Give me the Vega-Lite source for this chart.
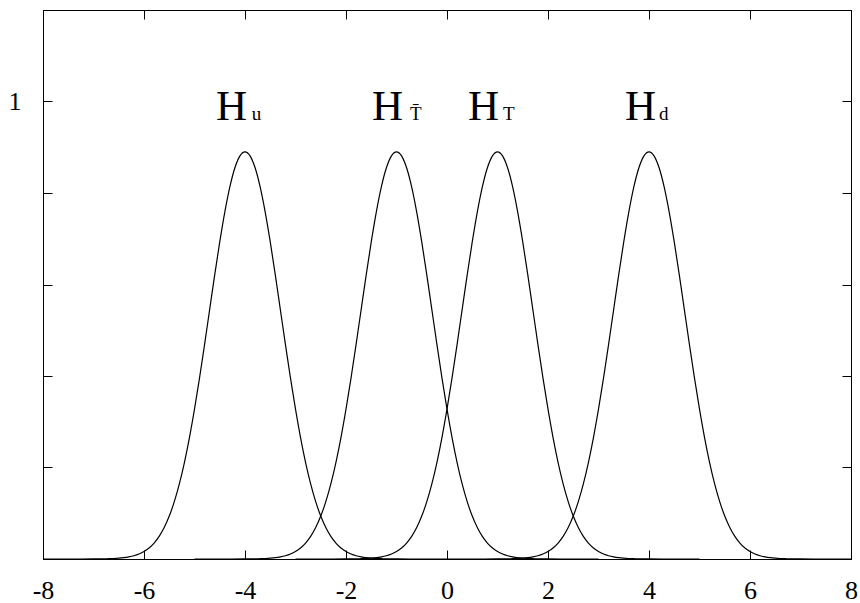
{
  "$schema": "https://vega.github.io/schema/vega-lite/v6.json",
  "width": 808,
  "height": 549,
  "autosize": "none",
  "padding": {"left": 43, "top": 10, "right": 9, "bottom": 44},
  "background": "white",
  "config": {
    "view": {"stroke": "black", "strokeWidth": 1},
    "axis": {
      "grid": false,
      "domainColor": "black",
      "tickColor": "black",
      "tickSize": -9,
      "tickWidth": 1,
      "labelFont": "Liberation Serif",
      "labelFontSize": 26,
      "labelColor": "black",
      "title": null
    }
  },
  "datasets": {
    "curves": [
      {"s":"u","x":-8,"y":0},{"s":"u","x":-7.5,"y":0},{"s":"u","x":-7,"y":0.00011},{"s":"u","x":-6.9,"y":0.0002},{"s":"u","x":-6.8,"y":0.00035},{"s":"u","x":-6.7,"y":0.00061},{"s":"u","x":-6.6,"y":0.00103},{"s":"u","x":-6.5,"y":0.00172},{"s":"u","x":-6.4,"y":0.0028},{"s":"u","x":-6.3,"y":0.00449},{"s":"u","x":-6.2,"y":0.00704},{"s":"u","x":-6.1,"y":0.01082},{"s":"u","x":-6,"y":0.0163},{"s":"u","x":-5.9,"y":0.02408},{"s":"u","x":-5.8,"y":0.03486},{"s":"u","x":-5.7,"y":0.04946},{"s":"u","x":-5.6,"y":0.0688},{"s":"u","x":-5.5,"y":0.09381},{"s":"u","x":-5.4,"y":0.12536},{"s":"u","x":-5.3,"y":0.16422},{"s":"u","x":-5.2,"y":0.21087},{"s":"u","x":-5.1,"y":0.2654},{"s":"u","x":-5,"y":0.32741},{"s":"u","x":-4.9,"y":0.39592},{"s":"u","x":-4.8,"y":0.46929},{"s":"u","x":-4.7,"y":0.54524},{"s":"u","x":-4.6,"y":0.62093},{"s":"u","x":-4.5,"y":0.69313},{"s":"u","x":-4.4,"y":0.75841},{"s":"u","x":-4.3,"y":0.8134},{"s":"u","x":-4.2,"y":0.8551},{"s":"u","x":-4.1,"y":0.88114},{"s":"u","x":-4,"y":0.89},{"s":"u","x":-3.9,"y":0.88114},{"s":"u","x":-3.8,"y":0.8551},{"s":"u","x":-3.7,"y":0.8134},{"s":"u","x":-3.6,"y":0.75841},{"s":"u","x":-3.5,"y":0.69313},{"s":"u","x":-3.4,"y":0.62093},{"s":"u","x":-3.3,"y":0.54524},{"s":"u","x":-3.2,"y":0.46929},{"s":"u","x":-3.1,"y":0.39592},{"s":"u","x":-3,"y":0.32741},{"s":"u","x":-2.9,"y":0.2654},{"s":"u","x":-2.8,"y":0.21087},{"s":"u","x":-2.7,"y":0.16422},{"s":"u","x":-2.6,"y":0.12536},{"s":"u","x":-2.5,"y":0.09381},{"s":"u","x":-2.4,"y":0.0688},{"s":"u","x":-2.3,"y":0.04946},{"s":"u","x":-2.2,"y":0.03486},{"s":"u","x":-2.1,"y":0.02408},{"s":"u","x":-2,"y":0.0163},{"s":"u","x":-1.9,"y":0.01082},{"s":"u","x":-1.8,"y":0.00704},{"s":"u","x":-1.7,"y":0.00449},{"s":"u","x":-1.6,"y":0.0028},{"s":"u","x":-1.5,"y":0.00172},{"s":"u","x":-1.4,"y":0.00103},{"s":"u","x":-1.3,"y":0.00061},{"s":"u","x":-1.2,"y":0.00035},{"s":"u","x":-1.1,"y":0.0002},{"s":"u","x":-1,"y":0.00011},{"s":"u","x":-0.5,"y":0},{"s":"u","x":0,"y":0},
      {"s":"tb","x":-5,"y":0},{"s":"tb","x":-4.5,"y":0},{"s":"tb","x":-4,"y":0.00011},{"s":"tb","x":-3.9,"y":0.0002},{"s":"tb","x":-3.8,"y":0.00035},{"s":"tb","x":-3.7,"y":0.00061},{"s":"tb","x":-3.6,"y":0.00103},{"s":"tb","x":-3.5,"y":0.00172},{"s":"tb","x":-3.4,"y":0.0028},{"s":"tb","x":-3.3,"y":0.00449},{"s":"tb","x":-3.2,"y":0.00704},{"s":"tb","x":-3.1,"y":0.01082},{"s":"tb","x":-3,"y":0.0163},{"s":"tb","x":-2.9,"y":0.02408},{"s":"tb","x":-2.8,"y":0.03486},{"s":"tb","x":-2.7,"y":0.04946},{"s":"tb","x":-2.6,"y":0.0688},{"s":"tb","x":-2.5,"y":0.09381},{"s":"tb","x":-2.4,"y":0.12536},{"s":"tb","x":-2.3,"y":0.16422},{"s":"tb","x":-2.2,"y":0.21087},{"s":"tb","x":-2.1,"y":0.2654},{"s":"tb","x":-2,"y":0.32741},{"s":"tb","x":-1.9,"y":0.39592},{"s":"tb","x":-1.8,"y":0.46929},{"s":"tb","x":-1.7,"y":0.54524},{"s":"tb","x":-1.6,"y":0.62093},{"s":"tb","x":-1.5,"y":0.69313},{"s":"tb","x":-1.4,"y":0.75841},{"s":"tb","x":-1.3,"y":0.8134},{"s":"tb","x":-1.2,"y":0.8551},{"s":"tb","x":-1.1,"y":0.88114},{"s":"tb","x":-1,"y":0.89},{"s":"tb","x":-0.9,"y":0.88114},{"s":"tb","x":-0.8,"y":0.8551},{"s":"tb","x":-0.7,"y":0.8134},{"s":"tb","x":-0.6,"y":0.75841},{"s":"tb","x":-0.5,"y":0.69313},{"s":"tb","x":-0.4,"y":0.62093},{"s":"tb","x":-0.3,"y":0.54524},{"s":"tb","x":-0.2,"y":0.46929},{"s":"tb","x":-0.1,"y":0.39592},{"s":"tb","x":0,"y":0.32741},{"s":"tb","x":0.1,"y":0.2654},{"s":"tb","x":0.2,"y":0.21087},{"s":"tb","x":0.3,"y":0.16422},{"s":"tb","x":0.4,"y":0.12536},{"s":"tb","x":0.5,"y":0.09381},{"s":"tb","x":0.6,"y":0.0688},{"s":"tb","x":0.7,"y":0.04946},{"s":"tb","x":0.8,"y":0.03486},{"s":"tb","x":0.9,"y":0.02408},{"s":"tb","x":1,"y":0.0163},{"s":"tb","x":1.1,"y":0.01082},{"s":"tb","x":1.2,"y":0.00704},{"s":"tb","x":1.3,"y":0.00449},{"s":"tb","x":1.4,"y":0.0028},{"s":"tb","x":1.5,"y":0.00172},{"s":"tb","x":1.6,"y":0.00103},{"s":"tb","x":1.7,"y":0.00061},{"s":"tb","x":1.8,"y":0.00035},{"s":"tb","x":1.9,"y":0.0002},{"s":"tb","x":2,"y":0.00011},{"s":"tb","x":2.5,"y":0},{"s":"tb","x":3,"y":0},
      {"s":"t","x":-3,"y":0},{"s":"t","x":-2.5,"y":0},{"s":"t","x":-2,"y":0.00011},{"s":"t","x":-1.9,"y":0.0002},{"s":"t","x":-1.8,"y":0.00035},{"s":"t","x":-1.7,"y":0.00061},{"s":"t","x":-1.6,"y":0.00103},{"s":"t","x":-1.5,"y":0.00172},{"s":"t","x":-1.4,"y":0.0028},{"s":"t","x":-1.3,"y":0.00449},{"s":"t","x":-1.2,"y":0.00704},{"s":"t","x":-1.1,"y":0.01082},{"s":"t","x":-1,"y":0.0163},{"s":"t","x":-0.9,"y":0.02408},{"s":"t","x":-0.8,"y":0.03486},{"s":"t","x":-0.7,"y":0.04946},{"s":"t","x":-0.6,"y":0.0688},{"s":"t","x":-0.5,"y":0.09381},{"s":"t","x":-0.4,"y":0.12536},{"s":"t","x":-0.3,"y":0.16422},{"s":"t","x":-0.2,"y":0.21087},{"s":"t","x":-0.1,"y":0.2654},{"s":"t","x":0,"y":0.32741},{"s":"t","x":0.1,"y":0.39592},{"s":"t","x":0.2,"y":0.46929},{"s":"t","x":0.3,"y":0.54524},{"s":"t","x":0.4,"y":0.62093},{"s":"t","x":0.5,"y":0.69313},{"s":"t","x":0.6,"y":0.75841},{"s":"t","x":0.7,"y":0.8134},{"s":"t","x":0.8,"y":0.8551},{"s":"t","x":0.9,"y":0.88114},{"s":"t","x":1,"y":0.89},{"s":"t","x":1.1,"y":0.88114},{"s":"t","x":1.2,"y":0.8551},{"s":"t","x":1.3,"y":0.8134},{"s":"t","x":1.4,"y":0.75841},{"s":"t","x":1.5,"y":0.69313},{"s":"t","x":1.6,"y":0.62093},{"s":"t","x":1.7,"y":0.54524},{"s":"t","x":1.8,"y":0.46929},{"s":"t","x":1.9,"y":0.39592},{"s":"t","x":2,"y":0.32741},{"s":"t","x":2.1,"y":0.2654},{"s":"t","x":2.2,"y":0.21087},{"s":"t","x":2.3,"y":0.16422},{"s":"t","x":2.4,"y":0.12536},{"s":"t","x":2.5,"y":0.09381},{"s":"t","x":2.6,"y":0.0688},{"s":"t","x":2.7,"y":0.04946},{"s":"t","x":2.8,"y":0.03486},{"s":"t","x":2.9,"y":0.02408},{"s":"t","x":3,"y":0.0163},{"s":"t","x":3.1,"y":0.01082},{"s":"t","x":3.2,"y":0.00704},{"s":"t","x":3.3,"y":0.00449},{"s":"t","x":3.4,"y":0.0028},{"s":"t","x":3.5,"y":0.00172},{"s":"t","x":3.6,"y":0.00103},{"s":"t","x":3.7,"y":0.00061},{"s":"t","x":3.8,"y":0.00035},{"s":"t","x":3.9,"y":0.0002},{"s":"t","x":4,"y":0.00011},{"s":"t","x":4.5,"y":0},{"s":"t","x":5,"y":0},
      {"s":"d","x":0,"y":0},{"s":"d","x":0.5,"y":0},{"s":"d","x":1,"y":0.00011},{"s":"d","x":1.1,"y":0.0002},{"s":"d","x":1.2,"y":0.00035},{"s":"d","x":1.3,"y":0.00061},{"s":"d","x":1.4,"y":0.00103},{"s":"d","x":1.5,"y":0.00172},{"s":"d","x":1.6,"y":0.0028},{"s":"d","x":1.7,"y":0.00449},{"s":"d","x":1.8,"y":0.00704},{"s":"d","x":1.9,"y":0.01082},{"s":"d","x":2,"y":0.0163},{"s":"d","x":2.1,"y":0.02408},{"s":"d","x":2.2,"y":0.03486},{"s":"d","x":2.3,"y":0.04946},{"s":"d","x":2.4,"y":0.0688},{"s":"d","x":2.5,"y":0.09381},{"s":"d","x":2.6,"y":0.12536},{"s":"d","x":2.7,"y":0.16422},{"s":"d","x":2.8,"y":0.21087},{"s":"d","x":2.9,"y":0.2654},{"s":"d","x":3,"y":0.32741},{"s":"d","x":3.1,"y":0.39592},{"s":"d","x":3.2,"y":0.46929},{"s":"d","x":3.3,"y":0.54524},{"s":"d","x":3.4,"y":0.62093},{"s":"d","x":3.5,"y":0.69313},{"s":"d","x":3.6,"y":0.75841},{"s":"d","x":3.7,"y":0.8134},{"s":"d","x":3.8,"y":0.8551},{"s":"d","x":3.9,"y":0.88114},{"s":"d","x":4,"y":0.89},{"s":"d","x":4.1,"y":0.88114},{"s":"d","x":4.2,"y":0.8551},{"s":"d","x":4.3,"y":0.8134},{"s":"d","x":4.4,"y":0.75841},{"s":"d","x":4.5,"y":0.69313},{"s":"d","x":4.6,"y":0.62093},{"s":"d","x":4.7,"y":0.54524},{"s":"d","x":4.8,"y":0.46929},{"s":"d","x":4.9,"y":0.39592},{"s":"d","x":5,"y":0.32741},{"s":"d","x":5.1,"y":0.2654},{"s":"d","x":5.2,"y":0.21087},{"s":"d","x":5.3,"y":0.16422},{"s":"d","x":5.4,"y":0.12536},{"s":"d","x":5.5,"y":0.09381},{"s":"d","x":5.6,"y":0.0688},{"s":"d","x":5.7,"y":0.04946},{"s":"d","x":5.8,"y":0.03486},{"s":"d","x":5.9,"y":0.02408},{"s":"d","x":6,"y":0.0163},{"s":"d","x":6.1,"y":0.01082},{"s":"d","x":6.2,"y":0.00704},{"s":"d","x":6.3,"y":0.00449},{"s":"d","x":6.4,"y":0.0028},{"s":"d","x":6.5,"y":0.00172},{"s":"d","x":6.6,"y":0.00103},{"s":"d","x":6.7,"y":0.00061},{"s":"d","x":6.8,"y":0.00035},{"s":"d","x":6.9,"y":0.0002},{"s":"d","x":7,"y":0.00011},{"s":"d","x":7.5,"y":0},{"s":"d","x":8,"y":0}
    ],
    "heads": [
      {"x": -4.574, "y": 0.96, "t": "H"},
      {"x": -1.485, "y": 0.96, "t": "H"},
      {"x": 0.416, "y": 0.96, "t": "H"},
      {"x": 3.525, "y": 0.96, "t": "H"}
    ],
    "subs": [
      {"x": -3.867, "y": 0.96, "t": "u"},
      {"x": -0.733, "y": 0.96, "t": "T̄"},
      {"x": 1.109, "y": 0.96, "t": "T"},
      {"x": 4.198, "y": 0.96, "t": "d"}
    ]
  },
  "layer": [
    {
      "data": {"name": "curves"},
      "mark": {"type": "line", "color": "black", "strokeWidth": 1.2, "interpolate": "monotone", "clip": true},
      "encoding": {
        "x": {"field": "x", "type": "quantitative", "scale": {"domain": [-8, 8], "nice": false, "zero": false},
              "axis": {"orient": "bottom", "values": [-8, -6, -4, -2, 0, 2, 4, 6, 8], "labelExpr": "replace(datum.label, '−', '-')", "labelPadding": 27, "labelFlush": false}},
        "y": {"field": "y", "type": "quantitative", "scale": {"domain": [0, 1.2], "nice": false},
              "axis": {"orient": "left", "values": [0, 0.2, 0.4, 0.6, 0.8, 1, 1.2], "labelExpr": "datum.value == 1 ? '1' : ''", "labelPadding": 31, "labelFlush": false}},
        "detail": {"field": "s"}
      }
    },
    {
      "data": {"name": "heads"},
      "mark": {"type": "text", "font": "Liberation Serif", "fontSize": 43, "align": "left", "baseline": "alphabetic", "color": "black"},
      "encoding": {
        "x": {"field": "x", "type": "quantitative",
              "axis": {"orient": "top", "values": [-8, -6, -4, -2, 0, 2, 4, 6, 8], "labels": false}},
        "y": {"field": "y", "type": "quantitative",
              "axis": {"orient": "right", "values": [0, 0.2, 0.4, 0.6, 0.8, 1, 1.2], "labels": false}},
        "text": {"field": "t"}
      }
    },
    {
      "data": {"name": "subs"},
      "mark": {"type": "text", "font": "Liberation Serif", "fontSize": 19, "align": "left", "baseline": "alphabetic", "color": "black"},
      "encoding": {
        "x": {"field": "x", "type": "quantitative", "axis": null},
        "y": {"field": "y", "type": "quantitative", "axis": null},
        "text": {"field": "t"}
      }
    }
  ],
  "resolve": {"axis": {"x": "independent", "y": "independent"}}
}
